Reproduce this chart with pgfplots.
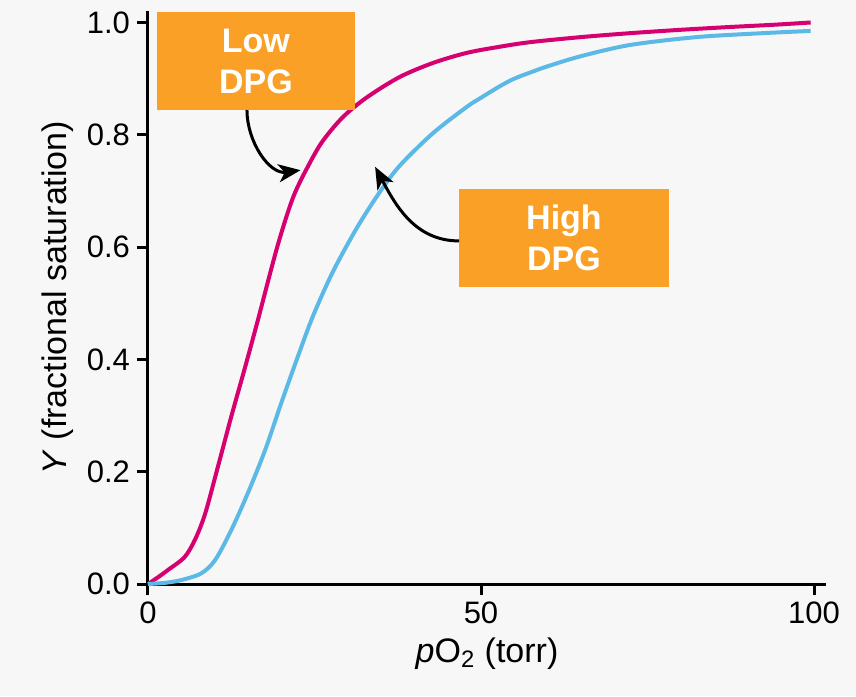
\documentclass[border=0pt]{standalone}
\usepackage{pgfplots}
\pgfplotsset{compat=1.18}
\usepackage{fontspec}
\setmainfont{Liberation Sans}
\usetikzlibrary{arrows.meta}
\definecolor{bgc}{RGB}{247,247,247}
\definecolor{lowc}{RGB}{214,0,112}
\definecolor{highc}{RGB}{92,185,230}
\definecolor{boxc}{RGB}{251,160,38}
\begin{document}
\begin{tikzpicture}
\fill[bgc] (-74pt,-56pt) rectangle (354pt,292pt);
\begin{axis}[
  x=3.33pt, y=280.75pt,
  xmin=0, xmax=101.8, ymin=0, ymax=1.02,
  axis lines*=left,
  axis line style={line width=1.5pt, black},
  tick align=outside,
  major tick length=5.5pt,
  tick style={line width=1.5pt, black},
  xtick={0,50,100},
  ytick={0,0.2,0.4,0.6,0.8,1.0},
  yticklabel style={/pgf/number format/.cd, fixed, fixed zerofill, precision=1},
  /pgf/number format/assume math mode=true,
  tick label style={font=\fontsize{15.5}{18}\selectfont},
  xlabel={\textit{p}O\textsubscript{2} (torr)},
  ylabel={\textit{Y} (fractional saturation)},
  label style={font=\fontsize{17}{20}\selectfont},
  clip=false,
]
\addplot[lowc, line width=2pt, smooth, tension=0.5] coordinates {
(0,0) (1.5,0.012) (3,0.025) (5.5,0.048) (7.1,0.08) (8.6,0.126) (10.5,0.209)
(12.5,0.298) (14.6,0.387) (16.5,0.47) (19.4,0.6) (21.8,0.689) (24.3,0.75)
(26.3,0.79) (29.3,0.832) (32.9,0.867) (37.8,0.903) (42.8,0.928) (47.9,0.946)
(52.9,0.957) (57.4,0.965) (65,0.974) (72.4,0.981) (80,0.987) (87.4,0.992)
(94,0.996) (99.5,1.0)
};
\addplot[highc, line width=2pt, smooth, tension=0.5] coordinates {
(0,0) (2.5,0.002) (5,0.007) (8,0.019) (10.1,0.043) (12.5,0.096) (15,0.162)
(17.6,0.239) (20,0.322) (22.5,0.405) (24.8,0.478) (27.8,0.557) (31.4,0.635)
(34.8,0.698) (37.8,0.745) (42.8,0.803) (47.9,0.85) (50,0.866) (52.9,0.887)
(55,0.9) (57.4,0.911) (60,0.922) (65,0.94) (72.4,0.96) (82.4,0.974)
(92.3,0.981) (99.5,0.985)
};
\node[fill=boxc, text=white, font=\fontsize{17}{20.5}\selectfont\bfseries,
  minimum width=99pt, minimum height=49pt, inner sep=0pt, align=center]
  at (axis cs:16.2,0.931) {Low\\DPG};
\node[fill=boxc, text=white, font=\fontsize{17}{20.5}\selectfont\bfseries,
  minimum width=105pt, minimum height=49pt, inner sep=0pt, align=center]
  at (axis cs:62.46,0.616) {High\\DPG};
\draw[line width=1.5pt, -{Stealth[length=11pt,width=9pt,inset=3pt]}]
  (axis cs:14.86,0.844) to[out=-90,in=188] (axis cs:22.9,0.737);
\draw[line width=1.5pt, -{Stealth[length=11pt,width=9pt,inset=3pt]}]
  (axis cs:46.7,0.611) to[out=180,in=-62] (axis cs:34.1,0.743);
\end{axis}
\end{tikzpicture}
\end{document}
